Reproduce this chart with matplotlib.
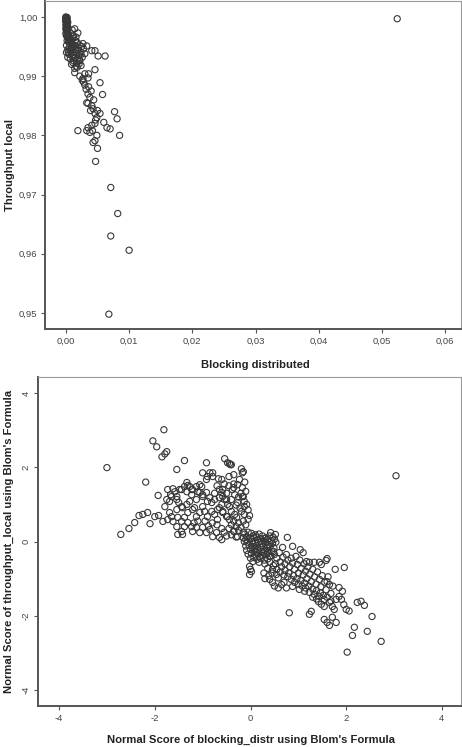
import matplotlib.pyplot as plt
import numpy as np
from matplotlib.ticker import FuncFormatter

# top panel: blocking distributed vs throughput local
top_points = [
    (0.0000, 1.0000), (0.0001, 0.9998), (0.0000, 0.9996), (0.0001, 0.9994), (0.0000, 0.9992),
    (0.0002, 0.9990), (0.0001, 0.9988), (0.0000, 0.9986), (0.0002, 0.9984), (0.0001, 0.9982),
    (0.0000, 0.9980), (0.0002, 0.9978), (0.0001, 0.9976), (0.0003, 0.9974), (0.0000, 0.9972),
    (0.0002, 0.9970), (0.0001, 0.9968), (0.0003, 0.9966), (0.0000, 0.9999), (0.0001, 0.9997),
    (0.0002, 0.9995), (0.0000, 0.9993), (0.0002, 0.9987), (0.0001, 0.9979), (0.0003, 0.9983),
    (0.0002, 0.9999), (0.0003, 0.9991),
    (0.0005, 0.9965), (0.0008, 0.9962), (0.0012, 0.9968), (0.0004, 0.9958), (0.0010, 0.9955),
    (0.0015, 0.9960), (0.0018, 0.9957), (0.0006, 0.9950), (0.0011, 0.9948), (0.0016, 0.9951),
    (0.0021, 0.9953), (0.0025, 0.9950), (0.0003, 0.9945), (0.0008, 0.9942), (0.0013, 0.9940),
    (0.0019, 0.9944), (0.0023, 0.9941), (0.0028, 0.9946), (0.0005, 0.9937), (0.0010, 0.9934),
    (0.0015, 0.9931), (0.0020, 0.9935), (0.0026, 0.9932), (0.0012, 0.9926), (0.0017, 0.9922),
    (0.0022, 0.9927), (0.0030, 0.9938), (0.0007, 0.9929), (0.0018, 0.9915), (0.0024, 0.9918),
    (0.0014, 0.9913), (0.0009, 0.9920), (0.0003, 0.9932), (0.0001, 0.9940), (0.0001, 0.9952),
    (0.0002, 0.9960), (0.0010, 0.9978), (0.0014, 0.9980), (0.0019, 0.9973), (0.0008, 0.9972),
    (0.0006, 0.9957), (0.0013, 0.9952), (0.0020, 0.9948), (0.0007, 0.9944), (0.0017, 0.9938),
    (0.0012, 0.9936), (0.0024, 0.9937), (0.0004, 0.9940), (0.0009, 0.9947), (0.0015, 0.9945),
    (0.0019, 0.9929), (0.0013, 0.9930), (0.0021, 0.9921), (0.0016, 0.9917), (0.0011, 0.9923),
    (0.0006, 0.9962), (0.0011, 0.9964), (0.0004, 0.9970), (0.0016, 0.9966), (0.0009, 0.9958),
    (0.0027, 0.9955), (0.0033, 0.9951), (0.0041, 0.9943), (0.0046, 0.9943), (0.0051, 0.9934),
    (0.0062, 0.9934), (0.0046, 0.9911), (0.0022, 0.9926), (0.0027, 0.9896), (0.0036, 0.9904),
    (0.0014, 0.9906), (0.0022, 0.9900), (0.0030, 0.9904), (0.0035, 0.9897), (0.0054, 0.9889),
    (0.0058, 0.9869), (0.0035, 0.9870), (0.0038, 0.9864), (0.0033, 0.9855), (0.0035, 0.9854),
    (0.0041, 0.9850), (0.0043, 0.9845), (0.0046, 0.9837), (0.0049, 0.9830), (0.0050, 0.9842),
    (0.0054, 0.9837), (0.0077, 0.9840), (0.0081, 0.9828), (0.0019, 0.9808), (0.0035, 0.9813),
    (0.0041, 0.9817), (0.0038, 0.9805), (0.0046, 0.9820), (0.0049, 0.9800), (0.0065, 0.9813),
    (0.0070, 0.9811), (0.0085, 0.9800), (0.0046, 0.9791), (0.0043, 0.9788), (0.0050, 0.9778),
    (0.0047, 0.9756), (0.0033, 0.9808),
    (0.0030, 0.9885), (0.0032, 0.9878), (0.0028, 0.9890), (0.0040, 0.9875), (0.0044, 0.9860),
    (0.0039, 0.9842), (0.0047, 0.9826), (0.0060, 0.9822), (0.0042, 0.9808), (0.0026, 0.9893),
    (0.0036, 0.9882),
    (0.0071, 0.9712), (0.0082, 0.9668), (0.0071, 0.9630), (0.0100, 0.9606), (0.0068, 0.9498),
    (0.0524, 0.9997),
]

# bottom panel: normal scores (Blom)
bottom_points = [
    # upper-left lobe
    (-3.00, 1.99), (-2.71, 0.19), (-2.54, 0.35), (-2.42, 0.51), (-2.33, 0.70), (-2.25, 0.73),
    (-2.15, 0.78), (-2.10, 0.48), (-2.00, 0.67), (-1.92, 0.70), (-1.83, 0.54), (-1.73, 0.59),
    (-1.65, 0.67), (-1.62, 0.54), (-1.52, 0.65), (-1.44, 0.54), (-1.38, 0.65), (-1.31, 0.51),
    (-2.19, 1.60), (-2.04, 2.71), (-1.96, 2.55), (-1.85, 2.28), (-1.75, 2.42), (-1.79, 2.36),
    (-1.81, 3.01), (-1.54, 1.94), (-1.38, 2.18), (-1.79, 0.94), (-1.93, 1.24),
    (-1.73, 1.40), (-1.67, 1.26), (-1.62, 1.42), (-1.54, 1.21), (-1.44, 1.40), (-1.38, 1.48),
    (-1.31, 1.51), (-1.23, 1.40), (-1.33, 1.59), (-1.69, 1.08), (-1.50, 1.05), (-1.44, 0.94),
    (-1.33, 1.00), (-1.27, 1.08), (-1.17, 0.91), (-1.13, 1.13), (-1.06, 1.32), (-1.00, 1.26),
    (-1.02, 1.48), (-0.92, 1.67), (-0.92, 2.12), (-0.85, 1.85), (-0.79, 1.75), (-0.67, 1.69),
    (-0.58, 1.40), (-0.54, 2.23), (-0.48, 2.12),
    (-1.54, 0.40), (-1.44, 0.27), (-1.38, 0.40), (-1.52, 0.19), (-1.42, 0.19), (-1.23, 0.40),
    (-1.21, 0.27), (-1.13, 0.38), (-1.06, 0.24), (-1.00, 0.38), (-0.92, 0.24), (-0.85, 0.32),
    (-0.79, 0.13), (-0.71, 0.24), (-0.65, 0.11), (-0.60, 0.05),
    (-1.06, 0.78), (-0.96, 0.81), (-0.90, 0.67), (-0.81, 0.81), (-0.75, 0.73), (-0.69, 0.59),
    (-0.65, 0.91), (-0.58, 0.81), (-0.50, 0.67), (-0.44, 0.59), (-0.54, 1.13), (-0.48, 1.00),
    (-0.65, 1.18), (-0.75, 1.13), (-0.90, 1.08), (-1.00, 0.94),
    (-0.44, 2.10), (-0.40, 2.07), (-0.19, 1.96), (-0.17, 1.85), (-0.79, 1.85), (-1.00, 1.85),
    (-0.90, 1.75), (-0.60, 1.67), (-0.23, 1.67), (-0.27, 1.53), (-0.17, 1.45), (-0.65, 1.40),
    (-0.60, 1.32), (-0.58, 1.21), (-0.50, 1.13), (-0.38, 1.40), (-0.33, 1.26), (-0.40, 1.13),
    (-0.27, 1.05), (-0.17, 1.21), (-0.13, 1.08), (-0.13, 0.94), (-0.19, 0.81), (-0.13, 0.73),
    (-0.44, 0.94), (-0.40, 0.81), (-0.33, 0.73), (-0.48, 0.67), (-0.29, 0.65), (-0.60, 1.00),
    (-0.69, 0.86), (-0.58, 0.78),
    (-1.33, 1.34), (-1.27, 1.48), (-1.21, 1.40), (-1.13, 1.48), (-1.06, 1.53), (-1.23, 1.26),
    (-1.10, 1.34), (-1.00, 1.21), (-0.92, 1.32), (-0.85, 1.18), (-0.81, 1.05), (-1.58, 1.34),
    (-1.48, 1.40), (-1.65, 1.21), (-1.54, 1.13), (-1.75, 1.13), (-1.69, 0.78), (-1.54, 0.86),
    (-1.42, 0.91), (-1.31, 0.78), (-1.21, 0.86), (-1.13, 0.67),
    (-0.35, 0.55), (-0.25, 0.50), (-0.15, 0.55), (-0.05, 0.60), (-0.40, 0.45), (-0.30, 0.40),
    (-0.20, 0.38), (-0.10, 0.45), (-0.45, 0.35), (-0.35, 0.28), (-0.25, 0.30), (-0.15, 0.25),
    (-0.55, 0.25), (-0.50, 0.15), (-0.40, 0.18), (-0.30, 0.12), (-0.60, 0.35), (-0.70, 0.45),
    (-0.80, 0.50), (-0.88, 0.42), (-0.95, 0.55), (-1.10, 0.55), (-1.18, 0.50), (-0.05, 0.85),
    (-0.08, 1.00), (-0.02, 0.70), (-0.22, 0.90), (-0.30, 0.98), (-0.25, 1.20), (-0.35, 1.55),
    (-0.45, 1.50), (-0.50, 1.30), (-0.20, 1.30), (-0.10, 1.35), (-0.55, 1.55), (-0.45, 1.75),
    (-0.35, 1.80), (-0.12, 1.60), (-0.70, 1.50), (-0.75, 1.30), (-0.42, 2.07), (-0.15, 1.88),
    (-0.35, 1.45), (-0.15, 1.21), (-0.35, 0.27), (-0.27, 0.13),
    # centre cluster
    (-0.12, 0.20), (-0.05, 0.25), (0.02, 0.22), (0.10, 0.18), (0.18, 0.20), (0.25, 0.15),
    (0.32, 0.10), (0.42, 0.24), (0.52, 0.19), (0.47, 0.12),
    (-0.15, 0.10), (-0.08, 0.12), (0.00, 0.08), (0.07, 0.10), (0.14, 0.05), (0.21, 0.08),
    (0.28, 0.02), (0.36, 0.05), (0.44, 0.02), (0.50, 0.06),
    (-0.13, 0.00), (-0.06, -0.02), (0.03, 0.00), (0.10, -0.04), (0.17, -0.02), (0.24, -0.06),
    (0.31, -0.03), (0.38, -0.08), (0.46, -0.05), (0.53, -0.02),
    (-0.10, -0.12), (-0.03, -0.10), (0.05, -0.14), (0.12, -0.11), (0.20, -0.15), (0.27, -0.12),
    (0.34, -0.17), (0.41, -0.14), (0.49, -0.18),
    (-0.08, -0.24), (0.00, -0.21), (0.08, -0.25), (0.15, -0.22), (0.22, -0.27), (0.30, -0.24),
    (0.37, -0.29), (0.44, -0.26), (0.48, -0.27),
    (-0.05, -0.34), (0.02, -0.32), (0.10, -0.36), (0.17, -0.33), (0.25, -0.38), (0.33, -0.35),
    (0.40, -0.40), (0.00, -0.45), (0.07, -0.43), (0.14, -0.48), (0.21, -0.45), (0.29, -0.50),
    (0.36, -0.47), (0.05, -0.54), (0.18, -0.56),
    (-0.02, -0.67), (0.02, -0.81), (-0.02, -0.89), (0.00, -0.75),
    (0.06, 0.15), (0.13, 0.12), (0.22, 0.00), (0.35, -0.12), (0.12, -0.30), (0.27, -0.31),
    (-0.10, 0.05), (0.40, 0.15), (0.05, -0.05), (0.19, -0.40), (0.30, 0.08), (0.09, -0.19),
    # lower-right lobe
    (0.77, 0.11), (0.67, -0.16), (0.88, -0.13), (1.04, -0.22), (1.10, -0.30), (1.23, -0.56),
    (1.33, -0.56), (1.44, -0.56), (1.58, -0.51), (1.60, -0.46), (1.77, -0.75), (1.96, -0.70),
    (1.60, -1.08), (1.65, -1.16), (1.85, -1.24), (1.92, -1.34), (0.40, -1.02), (0.46, -1.10),
    (0.65, -1.16), (0.88, -1.21), (1.02, -1.29), (1.13, -1.34), (1.23, -1.37), (1.33, -1.42),
    (1.44, -1.48), (1.54, -1.56), (1.48, -1.69), (1.54, -1.75), (1.65, -1.64), (1.71, -1.75),
    (1.75, -1.83), (1.79, -1.56), (1.90, -1.56), (2.00, -1.83), (2.06, -1.87), (2.23, -1.64),
    (2.31, -1.61), (2.38, -1.72), (2.54, -2.02), (2.73, -2.69), (2.17, -2.31), (2.13, -2.53),
    (2.02, -2.98), (2.44, -2.42), (1.54, -2.10), (1.60, -2.18), (1.65, -2.26), (1.71, -2.04),
    (1.79, -2.18), (0.81, -1.92), (1.27, -1.88), (1.23, -1.96),
    (0.35, -0.30), (0.42, -0.40), (0.50, -0.35), (0.55, -0.45), (0.60, -0.30), (0.62, -0.55),
    (0.68, -0.42), (0.72, -0.60), (0.75, -0.35), (0.78, -0.50), (0.82, -0.68), (0.85, -0.45),
    (0.88, -0.58), (0.92, -0.75), (0.95, -0.40), (0.98, -0.62), (1.00, -0.85), (1.03, -0.50),
    (1.06, -0.72), (1.10, -0.90), (1.12, -0.60), (1.15, -0.80), (1.18, -1.00), (1.20, -0.68),
    (1.24, -0.88), (1.27, -1.08), (1.30, -0.75), (1.34, -0.95), (1.37, -1.15), (1.40, -0.82),
    (1.44, -1.02), (1.47, -1.22), (1.50, -0.92), (1.55, -1.10), (1.58, -1.30), (1.62, -0.95),
    (1.68, -1.40), (1.72, -1.20), (0.40, -0.55), (0.48, -0.65), (0.55, -0.75), (0.62, -0.82),
    (0.70, -0.90), (0.78, -0.95), (0.85, -1.02), (0.92, -1.10), (1.00, -1.15), (1.08, -1.20),
    (1.15, -1.25), (0.45, -0.85), (0.58, -0.98), (0.52, -0.60), (0.65, -0.68), (0.72, -0.78),
    (0.80, -0.85), (0.90, -0.92), (0.97, -1.00), (1.05, -1.05), (1.13, -1.12), (1.22, -1.20),
    (1.30, -1.28), (1.38, -1.32), (1.46, -1.38), (1.52, -1.45), (1.38, -1.55), (1.30, -1.50),
    (1.42, -1.62), (1.60, -1.50), (1.68, -1.60), (1.85, -1.48), (1.95, -1.70), (0.30, -0.60),
    (0.36, -0.72), (0.28, -0.85), (0.38, -0.92), (0.30, -1.00), (0.50, -1.20), (0.58, -1.25),
    (0.70, -1.10), (0.75, -1.25), (1.17, -0.54), (1.48, -0.62), (0.46, -0.75), (0.54, -0.89),
    # outlier
    (3.04, 1.77),
]

top_xticks = [0.00, 0.01, 0.02, 0.03, 0.04, 0.05, 0.06]
top_yticks = [0.95, 0.96, 0.97, 0.98, 0.99, 1.00]
bottom_ticks = [-4, -2, 0, 2, 4]

plt.rcParams['font.family'] = ['Liberation Sans', 'DejaVu Sans']

fig = plt.figure(figsize=(4.62, 7.47), dpi=100)
ax1 = fig.add_axes([0.0974, 0.5596, 0.9006, 0.4391])
ax2 = fig.add_axes([0.0823, 0.0549, 0.9157, 0.4404])

tx, ty = np.array(top_points).T
bx, by = np.array(bottom_points).T

mk = dict(s=20, facecolors='none', edgecolors='#383838', linewidths=0.8)
ax1.scatter(tx, ty, **mk)
ax2.scatter(bx, by, **mk)

ax1.set_xlim(-0.0033, 0.0625)
ax1.set_ylim(0.9473, 1.0027)
ax1.set_xticks(top_xticks)
ax1.set_yticks(top_yticks)
comma = FuncFormatter(lambda v, p: f"{v:.2f}".replace('.', ','))
ax1.xaxis.set_major_formatter(comma)
ax1.yaxis.set_major_formatter(comma)

ax2.set_xlim(-4.44, 4.4)
ax2.set_ylim(-4.43, 4.43)
ax2.set_xticks(bottom_ticks)
ax2.set_yticks(bottom_ticks)
ax2.xaxis.set_major_formatter(FuncFormatter(lambda v, p: f"{int(round(v))}"))
ax2.yaxis.set_major_formatter(FuncFormatter(lambda v, p: f"{int(round(v))}"))
for lab in ax2.get_yticklabels():
    lab.set_rotation(90)
    lab.set_va('center')

for ax in (ax1, ax2):
    ax.tick_params(direction='out', length=3, width=0.8, color='#555555',
                   labelsize=6.8, labelcolor='#444444', pad=2.5)
    for side in ('left', 'bottom'):
        ax.spines[side].set_linewidth(1.4)
        ax.spines[side].set_color('#555555')
    for side in ('top', 'right'):
        ax.spines[side].set_linewidth(0.8)
        ax.spines[side].set_color('#999999')

ax1.set_xlabel('Blocking distributed', fontsize=8.1, fontweight='bold', color='#222222')
ax1.set_ylabel('Throughput local', fontsize=8.1, fontweight='bold', color='#222222')
ax1.xaxis.set_label_coords(0.505, -0.094)
ax1.yaxis.set_label_coords(-0.072, 0.5)

ax2.set_xlabel("Normal Score of blocking_distr using Blom's Formula", fontsize=8.1,
               fontweight='bold', color='#222222')
ax2.set_ylabel("Normal Score of throughput_local using Blom's Formula", fontsize=8.1,
               fontweight='bold', color='#222222')
ax2.xaxis.set_label_coords(0.504, -0.088)
ax2.yaxis.set_label_coords(-0.057, 0.5)

fig.savefig('out.png', dpi=100)
